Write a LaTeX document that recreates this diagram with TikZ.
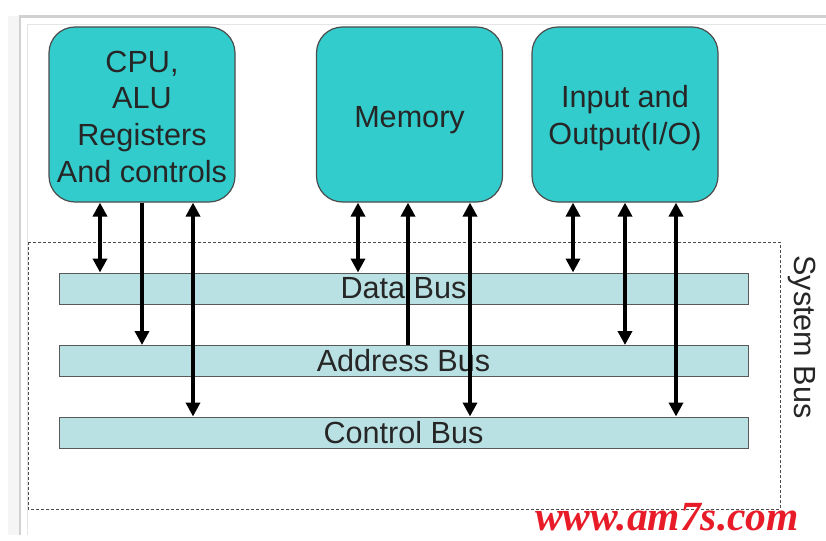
\documentclass[tikz,border=0pt]{standalone}
\usepackage{fontspec}
\setmainfont{Liberation Sans}
\newfontfamily\markfont{Liberation Serif}
\usetikzlibrary{arrows.meta}

\definecolor{unitfill}{RGB}{51,204,204}
\definecolor{busfill}{RGB}{185,224,227}
\definecolor{markred}{RGB}{232,28,40}

\begin{document}
\begin{tikzpicture}[x=1pt,y=-1pt,
  >={Triangle[length=14pt,width=14pt]},
  unit/.style={draw=black!70,line width=1.2pt,fill=unitfill,rounded corners=26pt,
    minimum width=186pt,minimum height=175pt,inner sep=0pt,align=center,
    font=\fontsize{30.6}{36.8}\selectfont,text=black!85},
  busbar/.style={draw=black!65,line width=1pt,fill=busfill,
    minimum width=689pt,minimum height=31pt,inner sep=0pt,
    font=\fontsize{30.6}{36.8}\selectfont,text=black!85},
  link/.style={line width=3.8pt}]
\useasboundingbox (0,0) rectangle (826,540);
% window frame
\fill[black!4] (8,16) rectangle (19,535);
\draw[black!18,line width=2.5pt] (20,535) -- (20,16.5) -- (826,16.5);
\draw[black!10,line width=1pt] (27,535) -- (27,25) -- (826,25);
% units
\node[unit] (cpu) at (142,114.5) {\rule{0pt}{26pt}CPU,\\ALU\\Registers\\And controls};
\node[unit] (mem) at (409.5,114.5) {\rule{0pt}{32pt}Memory};
\node[unit] (io) at (625,114.5) {\rule{0pt}{29pt}Input and\\Output(I/O)};
% system bus
\draw[black!70,line width=1pt,dash pattern=on 3pt off 2pt] (28,242) rectangle (780,509);
\node[rotate=-90,font=\fontsize{30.6}{36.8}\selectfont,text=black!85] (sysbus) at (802,337) {System Bus};
\node[busbar] (data) at (403.5,288.5) {Data Bus};
\node[busbar] (addr) at (403.5,361) {Address Bus};
\node[busbar] (ctrl) at (403.5,432.5) {Control Bus};
% connections
\draw[link,<->] (100,0 |- cpu.south) -- (100,0 |- data.north);
\draw[link,->] (142,0 |- cpu.south) -- (142,0 |- addr.north);
\draw[link,<->] (193,0 |- cpu.south) -- (193,0 |- ctrl.north);
\draw[link,<->] (358,0 |- mem.south) -- (358,0 |- data.north);
\draw[link,->] (408,0 |- addr.north) -- (408,0 |- mem.south);
\draw[link,<->] (470,0 |- mem.south) -- (470,0 |- ctrl.north);
\draw[link,<->] (573,0 |- io.south) -- (573,0 |- data.north);
\draw[link,<->] (625,0 |- io.south) -- (625,0 |- addr.north);
\draw[link,<->] (676,0 |- io.south) -- (676,0 |- ctrl.north);
% watermark
\node[font=\markfont\bfseries\itshape\fontsize{41.5}{44}\selectfont,text=markred,inner sep=1pt] (mark) at (667,517) {www.am7s.com};
\end{tikzpicture}
\end{document}
